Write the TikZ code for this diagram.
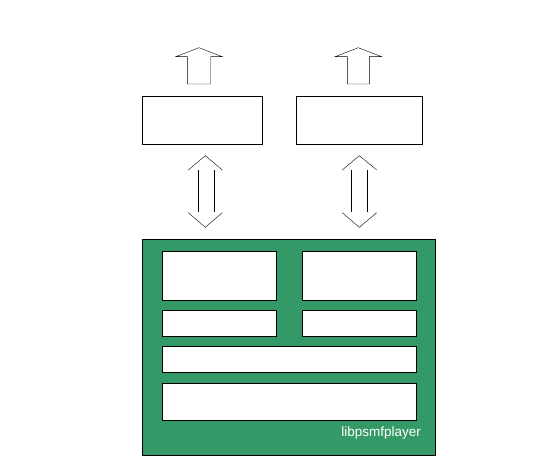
\documentclass[tikz,border=0pt]{standalone}
\usepackage{fontspec}
\setmainfont{Liberation Sans}
\definecolor{libgreen}{RGB}{51,153,102}
\begin{document}
\begin{tikzpicture}[x=1pt,y=-1pt]
\useasboundingbox (0,0) rectangle (552,468);
\node[draw, fill=libgreen, minimum width=293pt, minimum height=216pt, inner sep=0pt] (lib) at (288.6,347.2) {};
\node[draw, fill=white, minimum width=113.4pt, minimum height=48.3pt, inner sep=0pt] (1) at (219,275.8) {};
\node[draw, fill=white, minimum width=113.4pt, minimum height=48.3pt, inner sep=0pt] (2) at (359,275.8) {};
\node[draw, fill=white, minimum width=113.4pt, minimum height=25.3pt, inner sep=0pt] (3) at (219,323.3) {};
\node[draw, fill=white, minimum width=113.4pt, minimum height=25.3pt, inner sep=0pt] (4) at (359,323.3) {};
\node[draw, fill=white, minimum width=253.4pt, minimum height=25.3pt, inner sep=0pt] (5) at (289,359.3) {};
\node[draw, fill=white, minimum width=253.4pt, minimum height=37pt, inner sep=0pt] (6) at (289,401.5) {};
\node[text=white, font=\fontsize{13.5}{14}\selectfont, anchor=base east, inner sep=0pt] (name) at (421,436.7) {libpsmfplayer};
\node[draw, fill=white, minimum width=120pt, minimum height=48pt, inner sep=0pt] (7) at (202.3,120) {};
\node[draw, fill=white, minimum width=126.6pt, minimum height=48pt, inner sep=0pt] (8) at (359,120) {};

\path[draw] (187.3,84) -- (187.3,56.7) -- (175.7,56.7) -- (199,47.7) -- (222.3,56.7) -- (210.7,56.7) -- (210.7,84) -- cycle;
\path[draw] (347.3,84) -- (347.3,56.7) -- (335,56.7) -- (358.3,47.7) -- (381.7,56.7) -- (369.3,56.7) -- (369.3,84) -- cycle;

\path[draw,shorten <=26pt,shorten >=26.6pt] ([xshift=-4.6pt]7.south) -- ([xshift=-4.6pt]7.south |- lib.north);
\path[draw,shorten <=26pt,shorten >=26.6pt] ([xshift=11.4pt]7.south) -- ([xshift=11.4pt]7.south |- lib.north);
\path[draw] (188.3,170) -- (205.3,155.7) -- (222.3,170);
\path[draw] (188.3,212.7) -- (205.3,227.3) -- (222.3,212.7);

\path[draw,shorten <=26pt,shorten >=26.6pt] ([xshift=-8.3pt]8.south) -- ([xshift=-8.3pt]8.south |- lib.north);
\path[draw,shorten <=26pt,shorten >=26.6pt] ([xshift=8.3pt]8.south) -- ([xshift=8.3pt]8.south |- lib.north);
\path[draw] (342.3,170) -- (359.3,155.7) -- (376.7,170);
\path[draw] (342.3,212.7) -- (359.3,227.3) -- (376.7,212.7);
\end{tikzpicture}
\end{document}
